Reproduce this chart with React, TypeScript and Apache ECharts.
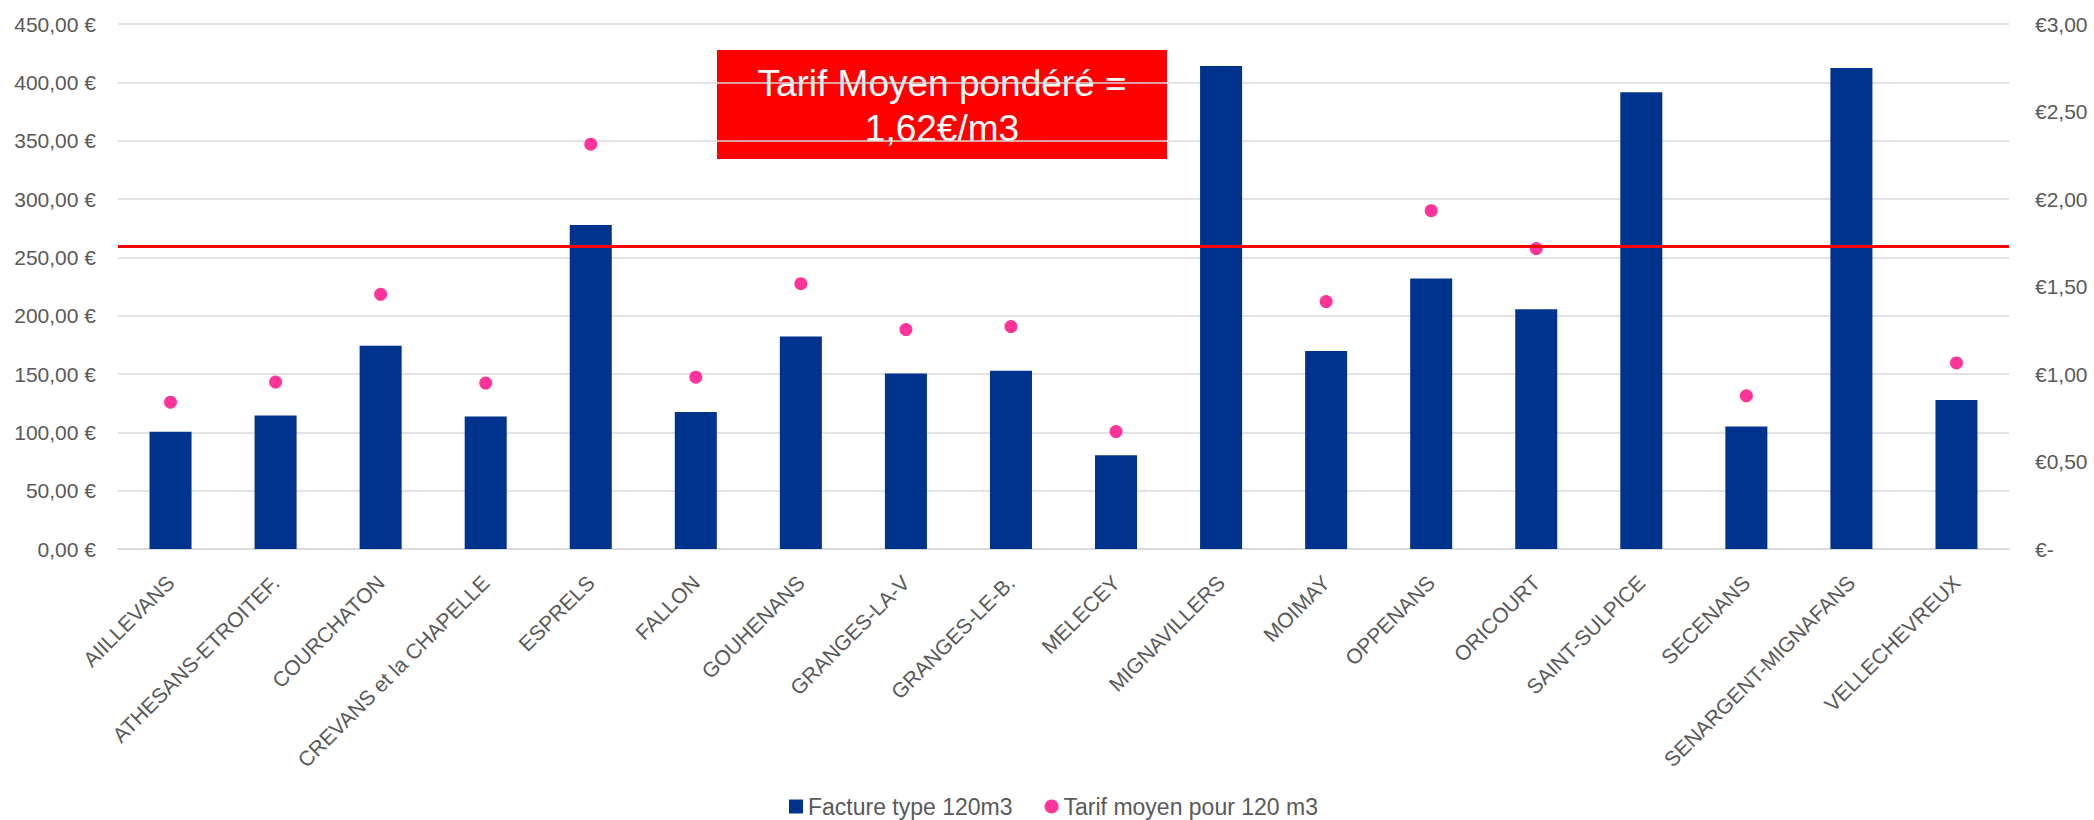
import React, { useEffect, useRef } from "react";
import * as echarts from "echarts";

const categories = [
  "AIILLEVANS",
  "ATHESANS-ETROITEF.",
  "COURCHATON",
  "CREVANS et la CHAPELLE",
  "ESPRELS",
  "FALLON",
  "GOUHENANS",
  "GRANGES-LA-V",
  "GRANGES-LE-B.",
  "MELECEY",
  "MIGNAVILLERS",
  "MOIMAY",
  "OPPENANS",
  "ORICOURT",
  "SAINT-SULPICE",
  "SECENANS",
  "SENARGENT-MIGNAFANS",
  "VELLECHEVREUX",
];

const factureType120m3 = [
  100.6, 114.4, 174.3, 113.5, 277.8, 117.5, 182.1, 150.5, 152.8, 80.3, 413.9,
  169.8, 231.8, 205.5, 391.4, 104.9, 412.2, 127.8,
];

const tarifMoyen120m3: (number | null)[] = [
  0.839, 0.954, 1.455, 0.948, 2.313, 0.982, 1.516, 1.254, 1.271, 0.671, null,
  1.414, 1.933, 1.717, null, 0.875, null, 1.063,
];

const referenceLineValue = 259.8; // on left axis (€)

const legendNames = ["Facture type 120m3", "Tarif moyen pour 120 m3"];
const annotationText = "Tarif Moyen pondéré =\n1,62€/m3";

const FONT = "'Liberation Sans', Arial, sans-serif";
const TEXT_COLOR = "#595959";

export default function App() {
  const ref = useRef<HTMLDivElement>(null);

  useEffect(() => {
    document.body.style.margin = "0";
    if (!ref.current) return;
    const chart = echarts.init(ref.current, undefined, { renderer: "svg" });

    const fmtLeft = (v: number) => v.toFixed(2).replace(".", ",") + " €";
    const fmtRight = (v: number) =>
      v === 0 ? "€-" : "€" + v.toFixed(2).replace(".", ",");

    chart.setOption({
      animation: false,
      backgroundColor: "#ffffff",
      textStyle: { fontFamily: FONT },
      grid: { left: 118, right: 85, top: 24, bottom: 271, containLabel: false },
      legend: {
        data: [
          { name: legendNames[0], icon: "rect" },
          { name: legendNames[1], icon: "circle" },
        ],
        left: 789,
        top: 795,
        itemWidth: 14,
        itemHeight: 14,
        itemGap: 32,
        padding: 0,
        textStyle: {
          color: TEXT_COLOR,
          fontSize: 23,
          lineHeight: 23,
          fontFamily: FONT,
        },
      },
      xAxis: {
        type: "category",
        data: categories,
        axisTick: { show: false },
        axisLine: { lineStyle: { color: "#d9d9d9", width: 1.5 } },
        axisLabel: {
          rotate: 45,
          interval: 0,
          margin: 30,
          color: TEXT_COLOR,
          fontSize: 21,
          fontFamily: FONT,
        },
      },
      yAxis: [
        {
          type: "value",
          min: 0,
          max: 450,
          interval: 50,
          axisLine: { show: false },
          axisTick: { show: false },
          splitLine: { lineStyle: { color: "#d9d9d9", width: 1.5 } },
          axisLabel: {
            formatter: fmtLeft,
            color: TEXT_COLOR,
            fontSize: 21,
            margin: 22,
            fontFamily: FONT,
          },
        },
        {
          type: "value",
          min: 0,
          max: 3,
          interval: 0.5,
          position: "right",
          axisLine: { show: false },
          axisTick: { show: false },
          splitLine: { show: false },
          axisLabel: {
            formatter: fmtRight,
            color: TEXT_COLOR,
            fontSize: 21,
            margin: 26,
            fontFamily: FONT,
          },
        },
      ],
      graphic: [
        {
          type: "group",
          left: 717,
          top: 50,
          children: [
            {
              type: "rect",
              shape: { x: 0, y: 0, width: 450, height: 109 },
              style: { fill: "#FF0000" },
            },
            {
              type: "text",
              x: 225,
              y: 56,
              style: {
                text: annotationText,
                fill: "#ffffff",
                fontSize: 37,
                fontFamily: FONT,
                lineHeight: 45,
                align: "center",
                verticalAlign: "middle",
              },
            },
          ],
        },
      ],
      series: [
        {
          name: legendNames[0],
          type: "bar",
          data: factureType120m3,
          barWidth: "40%",
          itemStyle: { color: "#00338D" },
          markLine: {
            silent: true,
            symbol: "none",
            label: { show: false },
            lineStyle: { color: "#FF0000", width: 3, type: "solid" },
            data: [{ yAxis: referenceLineValue }],
          },
          z: 2,
        },
        {
          name: legendNames[1],
          type: "scatter",
          yAxisIndex: 1,
          data: tarifMoyen120m3,
          symbol: "circle",
          symbolSize: 13,
          itemStyle: { color: "#FF3399", opacity: 1 },
          z: 3,
        },
      ],
    });

    return () => chart.dispose();
  }, []);

  return <div ref={ref} style={{ width: 2094, height: 820 }} />;
}
